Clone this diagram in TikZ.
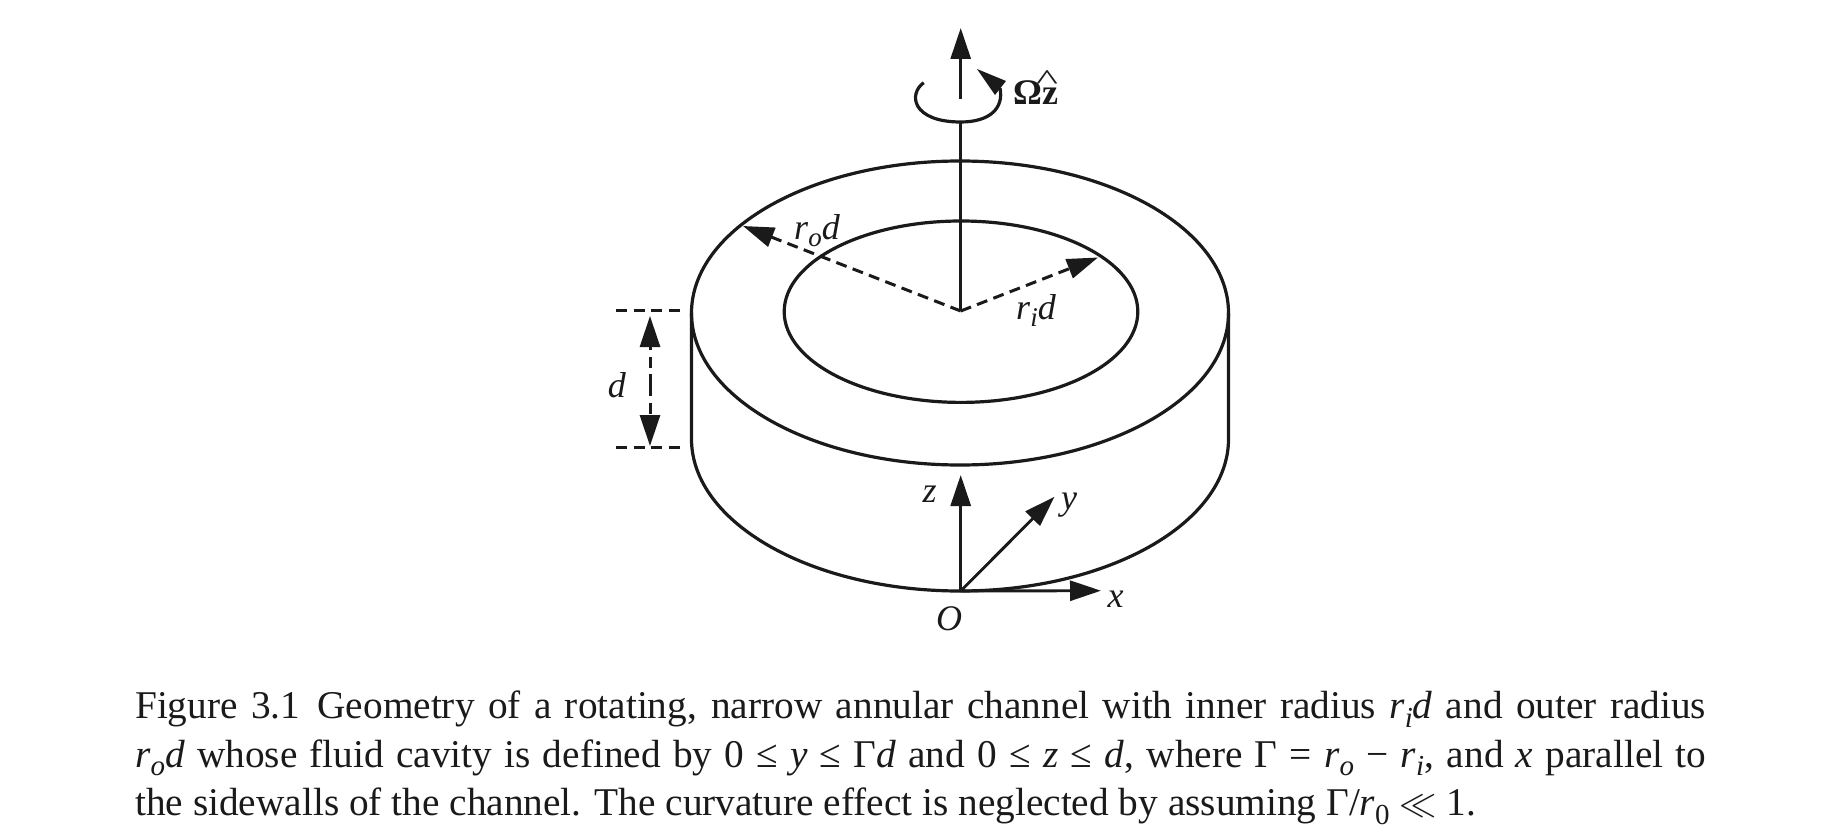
\documentclass[tikz,border=0pt]{standalone}
\usepackage{fontspec}
\setmainfont{Liberation Serif}
\usetikzlibrary{arrows.meta}
\definecolor{ink}{HTML}{1A1A1A}
\newcommand{\subi}[1]{\textit{r}\raisebox{-0.22em}{\fontsize{27}{27}\selectfont\textit{#1}}}
\newcommand{\capsub}[1]{\textit{r}\raisebox{-0.22em}{\fontsize{29}{29}\selectfont\textit{#1}}}
\tikzset{
  x=1pt,y=-1pt,
  solidline/.style={draw=ink,line width=3.2pt},
  thinline/.style={draw=ink,line width=2.9pt},
  dashline/.style={draw=ink,line width=3pt,dash pattern=on 11pt off 6.5pt},
  tip/.style={-{Triangle[length=31pt,width=20pt,fill=ink]}},
  lab/.style={inner sep=0pt,anchor=base,text=ink,font=\fontsize{36}{36}\selectfont},
  caption/.style={inner sep=0pt,anchor=north west,text width=1571pt,align=justify,text=ink,
     font=\fontsize{39.3}{48.3}\selectfont}
}
\begin{document}
\begin{tikzpicture}
\useasboundingbox (0,0) rectangle (1826,840);
\fill[white] (0,0) rectangle (1826,840);
\coordinate (top) at (960,313);
\coordinate (inner) at (961,311.7);
\coordinate (bot) at (960,439);
\coordinate (c) at (960.7,311);
\coordinate (o) at (960.7,591);
% channel
\draw[solidline] (top) ellipse [x radius=268.5,y radius=152];
\draw[solidline] (inner) ellipse [x radius=176.8,y radius=90.7];
\draw[solidline] (691.5,313) -- (691.5,439) arc[start angle=180,end angle=0,x radius=268.5,y radius=152] -- (1228.5,313);
% rotation axis
\coordinate (axtop) at (960.7,28);
\coordinate (axlow) at (960.7,99);
\coordinate (axarc) at (960.7,122);
\draw[thinline,tip] (axlow) -- (axtop);
\draw[thinline] (axarc) -- (c);
\draw[solidline] (923.7,82.7) .. controls (908,94) and (912,122) .. (960.7,122) .. controls (990,122) and (1004,108) .. (1000,88);
\fill[ink] (977,69) -- (1006,81) -- (995,95) -- cycle;
\node[lab,anchor=base west] (omega) at (1013,105) {\textbf{Ωz}\llap{\raisebox{15pt}{\scalebox{1.3}[0.8]{\textasciicircum}}}};
% radii
\coordinate (rotip) at (743,226);
\coordinate (ritip) at (1098,257.5);
\draw[dashline,tip] (c) -- (rotip);
\draw[dashline,tip] (c) -- (ritip);
\node[lab] (rod) at (817,239) {\subi{o}\textit{d}};
\node[lab] (rid) at (1036,319) {\subi{i}\textit{d}};
% height
\coordinate (dt1) at (616,310);
\coordinate (dt2) at (680,310);
\coordinate (db1) at (616,447.7);
\coordinate (db2) at (680,447.7);
\draw[dashline] (dt1) -- (dt2);
\draw[dashline] (db1) -- (db2);
\coordinate (dmid) at (650,385);
\coordinate (dup) at (650,316);
\coordinate (ddn) at (650,446);
\draw[dashline,tip] (dmid) -- (dup);
\draw[dashline,tip] (dmid) -- (ddn);
\node[lab] (d) at (617,397) {\textit{d}};
% axes
\coordinate (zt) at (960.7,475);
\coordinate (yt) at (1054.5,496.7);
\coordinate (xt) at (1101,590.7);
\draw[thinline,tip] (o) -- (zt);
\draw[thinline,tip] (o) -- (yt);
\draw[thinline,tip] (o) -- (xt);
\node[lab] (zl) at (929.5,502) {\textit{z}};
\node[lab] (yl) at (1069,509) {\textit{y}};
\node[lab] (xl) at (1115.6,607) {\textit{x}};
\node[lab] (ol) at (949,630) {\textit{O}};
% caption
\node[caption] (cap) at (135,691) {Figure 3.1\hspace{0.1em} Geometry of a rotating, narrow annular channel with inner radius \capsub{i}\textit{d} and outer radius\linebreak
\capsub{o}\textit{d} whose fluid cavity is defined by 0 ≤ \textit{y} ≤ Γ\textit{d} and 0 ≤ \textit{z} ≤ \textit{d}, where Γ = \capsub{o} − \capsub{i}, and \textit{x} parallel to\linebreak
the sidewalls of the channel. The curvature effect is neglected by assuming Γ/\textit{r}\raisebox{-0.22em}{\fontsize{29}{29}\selectfont 0} \scalebox{1.5}{$\ll$} 1.};
\end{tikzpicture}
\end{document}
